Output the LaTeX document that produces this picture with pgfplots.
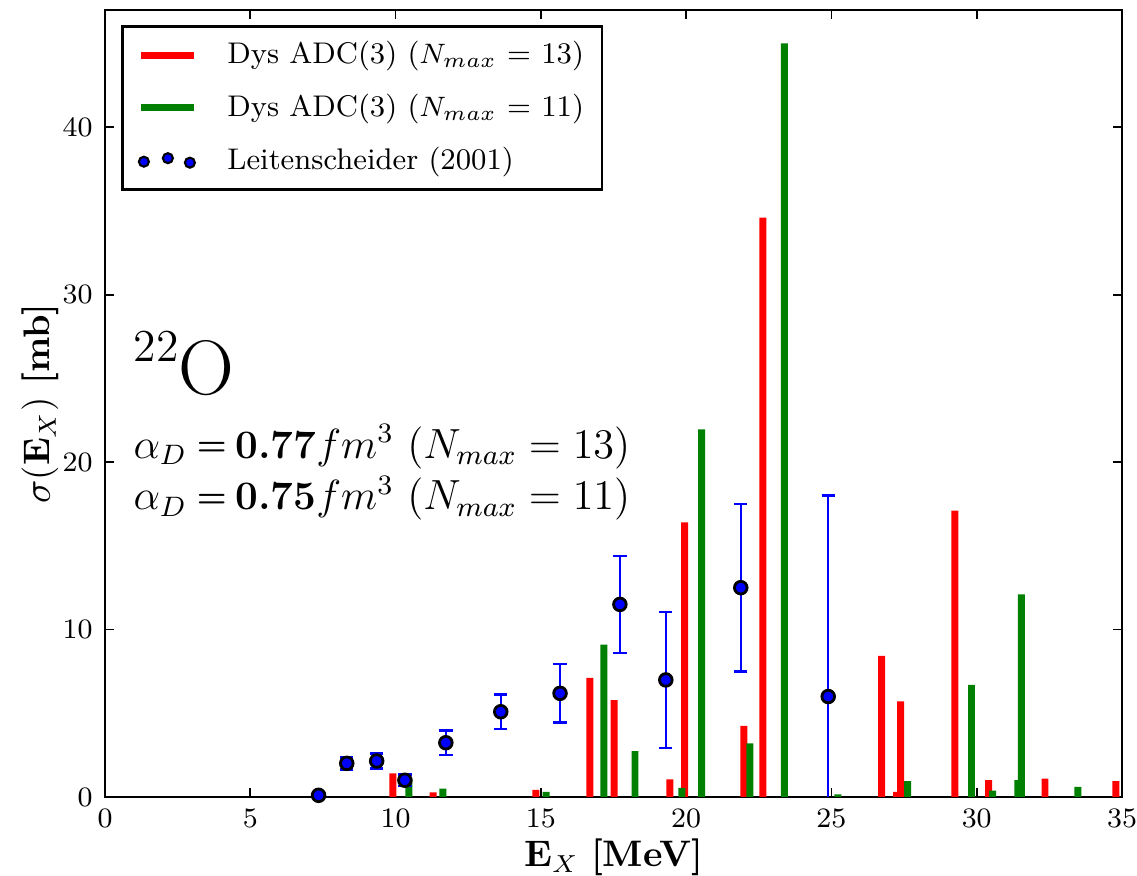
\documentclass[border=0pt]{standalone}
\usepackage{pgfplots}
\pgfplotsset{compat=1.18}
\definecolor{mplgreen}{rgb}{0,0.5,0}
\pgfplotstableread{
x h
9.91 1.41
11.29 0.28
14.83 0.42
16.69 7.12
17.52 5.79
19.44 1.05
19.95 16.4
21.99 4.24
22.64 34.6
26.73 8.43
27.24 0.3
27.38 5.71
29.25 17.1
30.41 1.0
32.35 1.1
34.79 0.95
}\redbars
\pgfplotstableread{
x h
10.46 1.1
11.63 0.5
15.18 0.3
17.17 9.1
18.24 2.74
19.85 0.55
20.53 21.95
22.19 3.2
23.38 45.0
25.22 0.15
27.62 0.95
29.82 6.7
30.55 0.38
31.42 1.0
31.54 12.1
33.48 0.6
}\greenbars
\pgfplotstableread{
x y e
7.35 0.1 0.2
8.32 2.01 0.36
9.35 2.15 0.45
10.32 1.0 0.35
11.73 3.24 0.73
13.62 5.09 1.03
15.66 6.19 1.75
17.72 11.5 2.9
19.30 6.99 4.05
21.88 12.5 5.0
24.89 6.0 12.0
}\expdata
\newcommand{\smeq}{\hspace{2.8pt}\raisebox{0.6pt}{\fontsize{9.5}{10}\selectfont\textbf{=}}\hspace{2.5pt}}
\begin{document}
\begin{tikzpicture}
\useasboundingbox (-10.5mm,-7.9mm) rectangle (103.2mm,79.7mm);
\begin{axis}[
  scale only axis, width=101.7mm, height=78.7mm,
  xmin=0, xmax=35, ymin=0, ymax=47,
  xtick={0,5,...,35}, ytick={0,10,20,30,40},
  major tick length=0.9mm,
  tick style={black, line width=0.5pt},
  axis line style={line width=0.8pt},
  ticklabel style={font=\fontsize{8}{9}\selectfont},
  xlabel={\textbf{E}$_X$ \textbf{[MeV]}},
  ylabel={$\sigma$(\textbf{E}$_X$) \textbf{[mb]}},
  label style={font=\fontsize{10.5}{12}\selectfont},
  xlabel style={at={(axis description cs:0.5,-0.0889)}, anchor=base},
  ylabel style={at={(axis description cs:-0.0541,0.5)}, anchor=base, rotate=0},
  legend style={at={(rel axis cs:0.0157,0.981)}, anchor=north west, draw=black, line width=0.8pt,
    font=\fontsize{8.5}{10}\selectfont, row sep=1.1mm, inner xsep=1.5mm, inner ysep=0.8mm,
    nodes={inner xsep=0.3mm},
    /tikz/every odd column/.append style={column sep=2.7mm}},
  legend cell align=left,
]
\addplot[ybar, bar width=0.24, bar shift=0pt, fill=red, draw=none,
  legend image code/.code={\draw[draw=red, line width=2pt] (0mm,0mm) -- (5.3mm,0mm);}]
  table[x=x, y=h] {\redbars};
\addlegendentry{Dys ADC(3) ($N_{max}$ = 13)}
\addplot[ybar, bar width=0.24, bar shift=0pt, fill=mplgreen, draw=none,
  legend image code/.code={\draw[draw=mplgreen, line width=2pt] (0mm,0mm) -- (5.3mm,0mm);}]
  table[x=x, y=h] {\greenbars};
\addlegendentry{Dys ADC(3) ($N_{max}$ = 11)}
\addplot[only marks, mark=*, mark size=1.8pt, mark options={fill=blue, draw=black, line width=0.8pt},
  error bars/.cd, y dir=both, y explicit,
  error bar style={blue, line width=0.7pt},
  error mark options={rotate=90, mark size=1.9pt, blue, line width=0.7pt},
  /pgfplots/legend image code/.code={\draw[draw=black, fill=blue, line width=0.6pt] (0.3mm,-0.1mm) circle (0.5mm) (2.7mm,0.25mm) circle (0.5mm) (4.9mm,-0.2mm) circle (0.5mm);}]
  table[x=x, y=y, y error=e] {\expdata};
\addlegendentry{Leitenscheider (2001)}
\node[anchor=base west, inner sep=0pt] at (rel axis cs:0.0275,0.511)
  {\raisebox{9.5pt}{\fontsize{13}{15}\selectfont 22}\fontsize{22}{24}\selectfont O};
\node[anchor=base west, inner sep=0pt, font=\fontsize{11.5}{13}\selectfont] at (rel axis cs:0.0275,0.4307)
  {$\alpha_D$\smeq\textbf{0.77}$fm^3$\ $(N_{max}=13)$};
\node[anchor=base west, inner sep=0pt, font=\fontsize{11.5}{13}\selectfont] at (rel axis cs:0.0275,0.3647)
  {$\alpha_D$\smeq\textbf{0.75}$fm^3$\ $(N_{max}=11)$};
\end{axis}
\end{tikzpicture}
\end{document}
